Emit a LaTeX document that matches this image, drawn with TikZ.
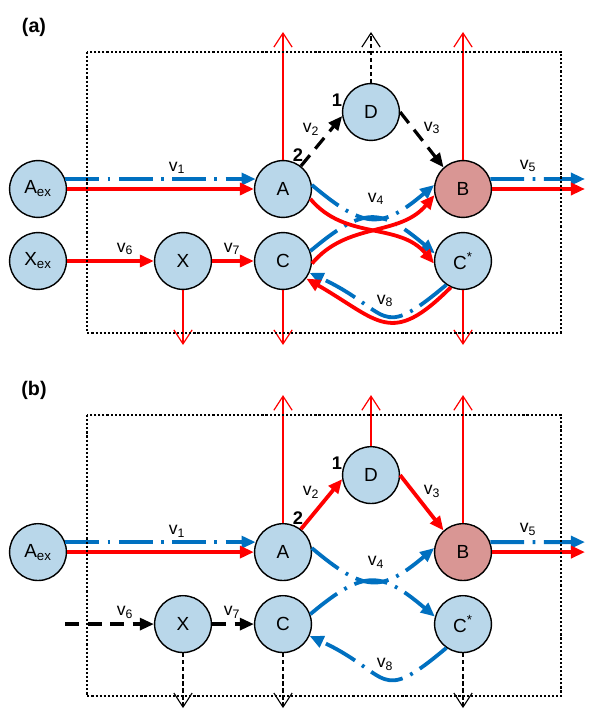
\documentclass[tikz,border=0pt]{standalone}
\usepackage{fontspec}
\setmainfont{Liberation Sans}
\usetikzlibrary{arrows.meta}

\definecolor{poolblue}{RGB}{185,215,234}
\definecolor{poolpink}{RGB}{217,150,148}
\definecolor{fluxblue}{RGB}{0,112,192}
\definecolor{fluxred}{RGB}{255,0,0}

\begin{document}
\begin{tikzpicture}[x=0.025cm, y=-0.025cm,
    pool/.style={draw, circle, line width=1pt, fill=poolblue, minimum size=1.42cm, inner sep=0pt, font=\fontsize{13.5}{15}\selectfont},
    flux/.style={line width=2.7pt, -{Triangle[length=10pt,width=8.5pt]}},
    redflux/.style={flux, fluxred},
    blueflux/.style={flux, fluxblue, dash pattern=on 24pt off 6pt on 2pt off 6pt},
    blackflux/.style={flux, black, line width=2.3pt, dash pattern=on 10pt off 6pt},
    drain/.style={fluxred, line width=0.85pt, -{Straight Barb[length=10pt,width=13pt]}},
    blackdrain/.style={black, line width=0.8pt, dash pattern=on 3pt off 2pt, -{Straight Barb[length=10pt,width=13pt]}},
    border/.style={line width=1.5pt, dash pattern=on 1.5pt off 1.4pt},
    lab/.style={font=\fontsize{12.5}{14}\selectfont},
    num/.style={font=\bfseries\fontsize{13}{15}\selectfont},
    panel/.style={font=\bfseries\fontsize{14}{16}\selectfont}]

\useasboundingbox (0,0) rectangle (600,720);

% ---------- panel (a)
\node[panel] (pa) at (34,27) {(a)};
\node[pool] (aAex) at (38,189) {A\textsubscript{ex}};
\node[pool] (aXex) at (38,261) {X\textsubscript{ex}};
\node[pool] (aX) at (183,261) {X};
\node[pool] (aA) at (283,189) {A};
\node[pool] (aC) at (283,261) {C};
\node[pool] (aD) at (371,112) {D};
\node[pool, fill=poolpink] (aB) at (463,189) {B};
\node[pool] (aCs) at (463,261) {C\textsuperscript{*}};

\coordinate (aAup) at (283,32);
\coordinate (aDup) at (371,32);
\coordinate (aBup) at (463,32);
\coordinate (aXdn) at (183,345);
\coordinate (aCdn) at (283,345);
\coordinate (aCsdn) at (463,345);
\coordinate (aout) at (585,189);
\coordinate (aoutb) at (585,179);

\draw[drain] (aA) -- (aAup);
\draw[drain] (aB) -- (aBup);
\draw[blackdrain] (aD) -- (aDup);
\draw[drain] (aX) -- (aXdn);
\draw[drain] (aC) -- (aCdn);
\draw[drain] (aCs) -- (aCsdn);

\draw[blueflux] (aAex.20) -- (aA.160);
\draw[redflux] (aAex) -- (aA);
\draw[redflux] (aXex) -- (aX);
\draw[redflux] (aX) -- (aC);
\draw[blackflux] (aA.52) -- (aD.188);
\draw[blackflux] (aD.east) -- (aB.132);
\draw[blueflux] (aA.8) to[out=-40, in=-140, looseness=1.45] (aB.172);
\draw[blueflux] (aC.20) to[out=40, in=140, looseness=1.45] (aCs.165);
\draw[redflux] (aA.340) to[out=-50, in=130] (aCs.185);
\draw[redflux] (aC.355) to[out=50, in=-130] (aB.192);
\draw[blueflux] (aCs.235) to[out=-140, in=-25, looseness=1.7] (aC.336);
\draw[redflux] (aCs.245) to[out=-135, in=-30, looseness=1.5] (aC.323);
\draw[blueflux] (aB.20) -- (aoutb);
\draw[redflux] (aB) -- (aout);

\node[lab] (av1) at (177,168) {v\textsubscript{1}};
\node[lab] (av2) at (311,129) {v\textsubscript{2}};
\node[lab] (av3) at (432,128) {v\textsubscript{3}};
\node[lab] (av4) at (376,199) {v\textsubscript{4}};
\node[lab] (av5) at (528,166) {v\textsubscript{5}};
\node[lab] (av6) at (125,249) {v\textsubscript{6}};
\node[lab] (av7) at (232,249) {v\textsubscript{7}};
\node[lab] (av8) at (385,301) {v\textsubscript{8}};
\node[num] (aone) at (337,100) {1};
\node[num] (atwo) at (298,155) {2};

\draw[border] (87,52) rectangle (561,333);

% ---------- panel (b)
\begin{scope}[yshift=-9.075cm]
\node[panel] (pb) at (34,27) {(b)};
\node[pool] (bAex) at (38,189) {A\textsubscript{ex}};
\node[pool] (bX) at (183,261) {X};
\node[pool] (bA) at (283,189) {A};
\node[pool] (bC) at (283,261) {C};
\node[pool] (bD) at (371,112) {D};
\node[pool, fill=poolpink] (bB) at (463,189) {B};
\node[pool] (bCs) at (463,261) {C\textsuperscript{*}};

\coordinate (bAup) at (283,32);
\coordinate (bDup) at (371,32);
\coordinate (bBup) at (463,32);
\coordinate (bXdn) at (183,345);
\coordinate (bCdn) at (283,345);
\coordinate (bCsdn) at (463,345);
\coordinate (bXin) at (65,261);
\coordinate (bout) at (585,189);
\coordinate (boutb) at (585,179);

\draw[drain] (bA) -- (bAup);
\draw[drain] (bD) -- (bDup);
\draw[drain] (bB) -- (bBup);
\draw[blackdrain] (bX) -- (bXdn);
\draw[blackdrain] (bC) -- (bCdn);
\draw[blackdrain] (bCs) -- (bCsdn);

\draw[blueflux] (bAex.20) -- (bA.160);
\draw[redflux] (bAex) -- (bA);
\draw[blackflux] (bXin) -- (bX);
\draw[blackflux] (bX) -- (bC);
\draw[redflux] (bA.52) -- (bD.188);
\draw[redflux] (bD.east) -- (bB.132);
\draw[blueflux] (bA.8) to[out=-40, in=-140, looseness=1.45] (bB.172);
\draw[blueflux] (bC.20) to[out=40, in=140, looseness=1.45] (bCs.165);
\draw[blueflux] (bCs.235) to[out=-140, in=-25, looseness=1.7] (bC.336);
\draw[blueflux] (bB.20) -- (boutb);
\draw[redflux] (bB) -- (bout);

\node[lab] (bv1) at (177,168) {v\textsubscript{1}};
\node[lab] (bv2) at (311,129) {v\textsubscript{2}};
\node[lab] (bv3) at (432,128) {v\textsubscript{3}};
\node[lab] (bv4) at (376,199) {v\textsubscript{4}};
\node[lab] (bv5) at (528,166) {v\textsubscript{5}};
\node[lab] (bv6) at (125,249) {v\textsubscript{6}};
\node[lab] (bv7) at (232,249) {v\textsubscript{7}};
\node[lab] (bv8) at (385,301) {v\textsubscript{8}};
\node[num] (bone) at (337,100) {1};
\node[num] (btwo) at (298,155) {2};

\draw[border] (87,52) rectangle (561,333);
\end{scope}
\end{tikzpicture}
\end{document}
